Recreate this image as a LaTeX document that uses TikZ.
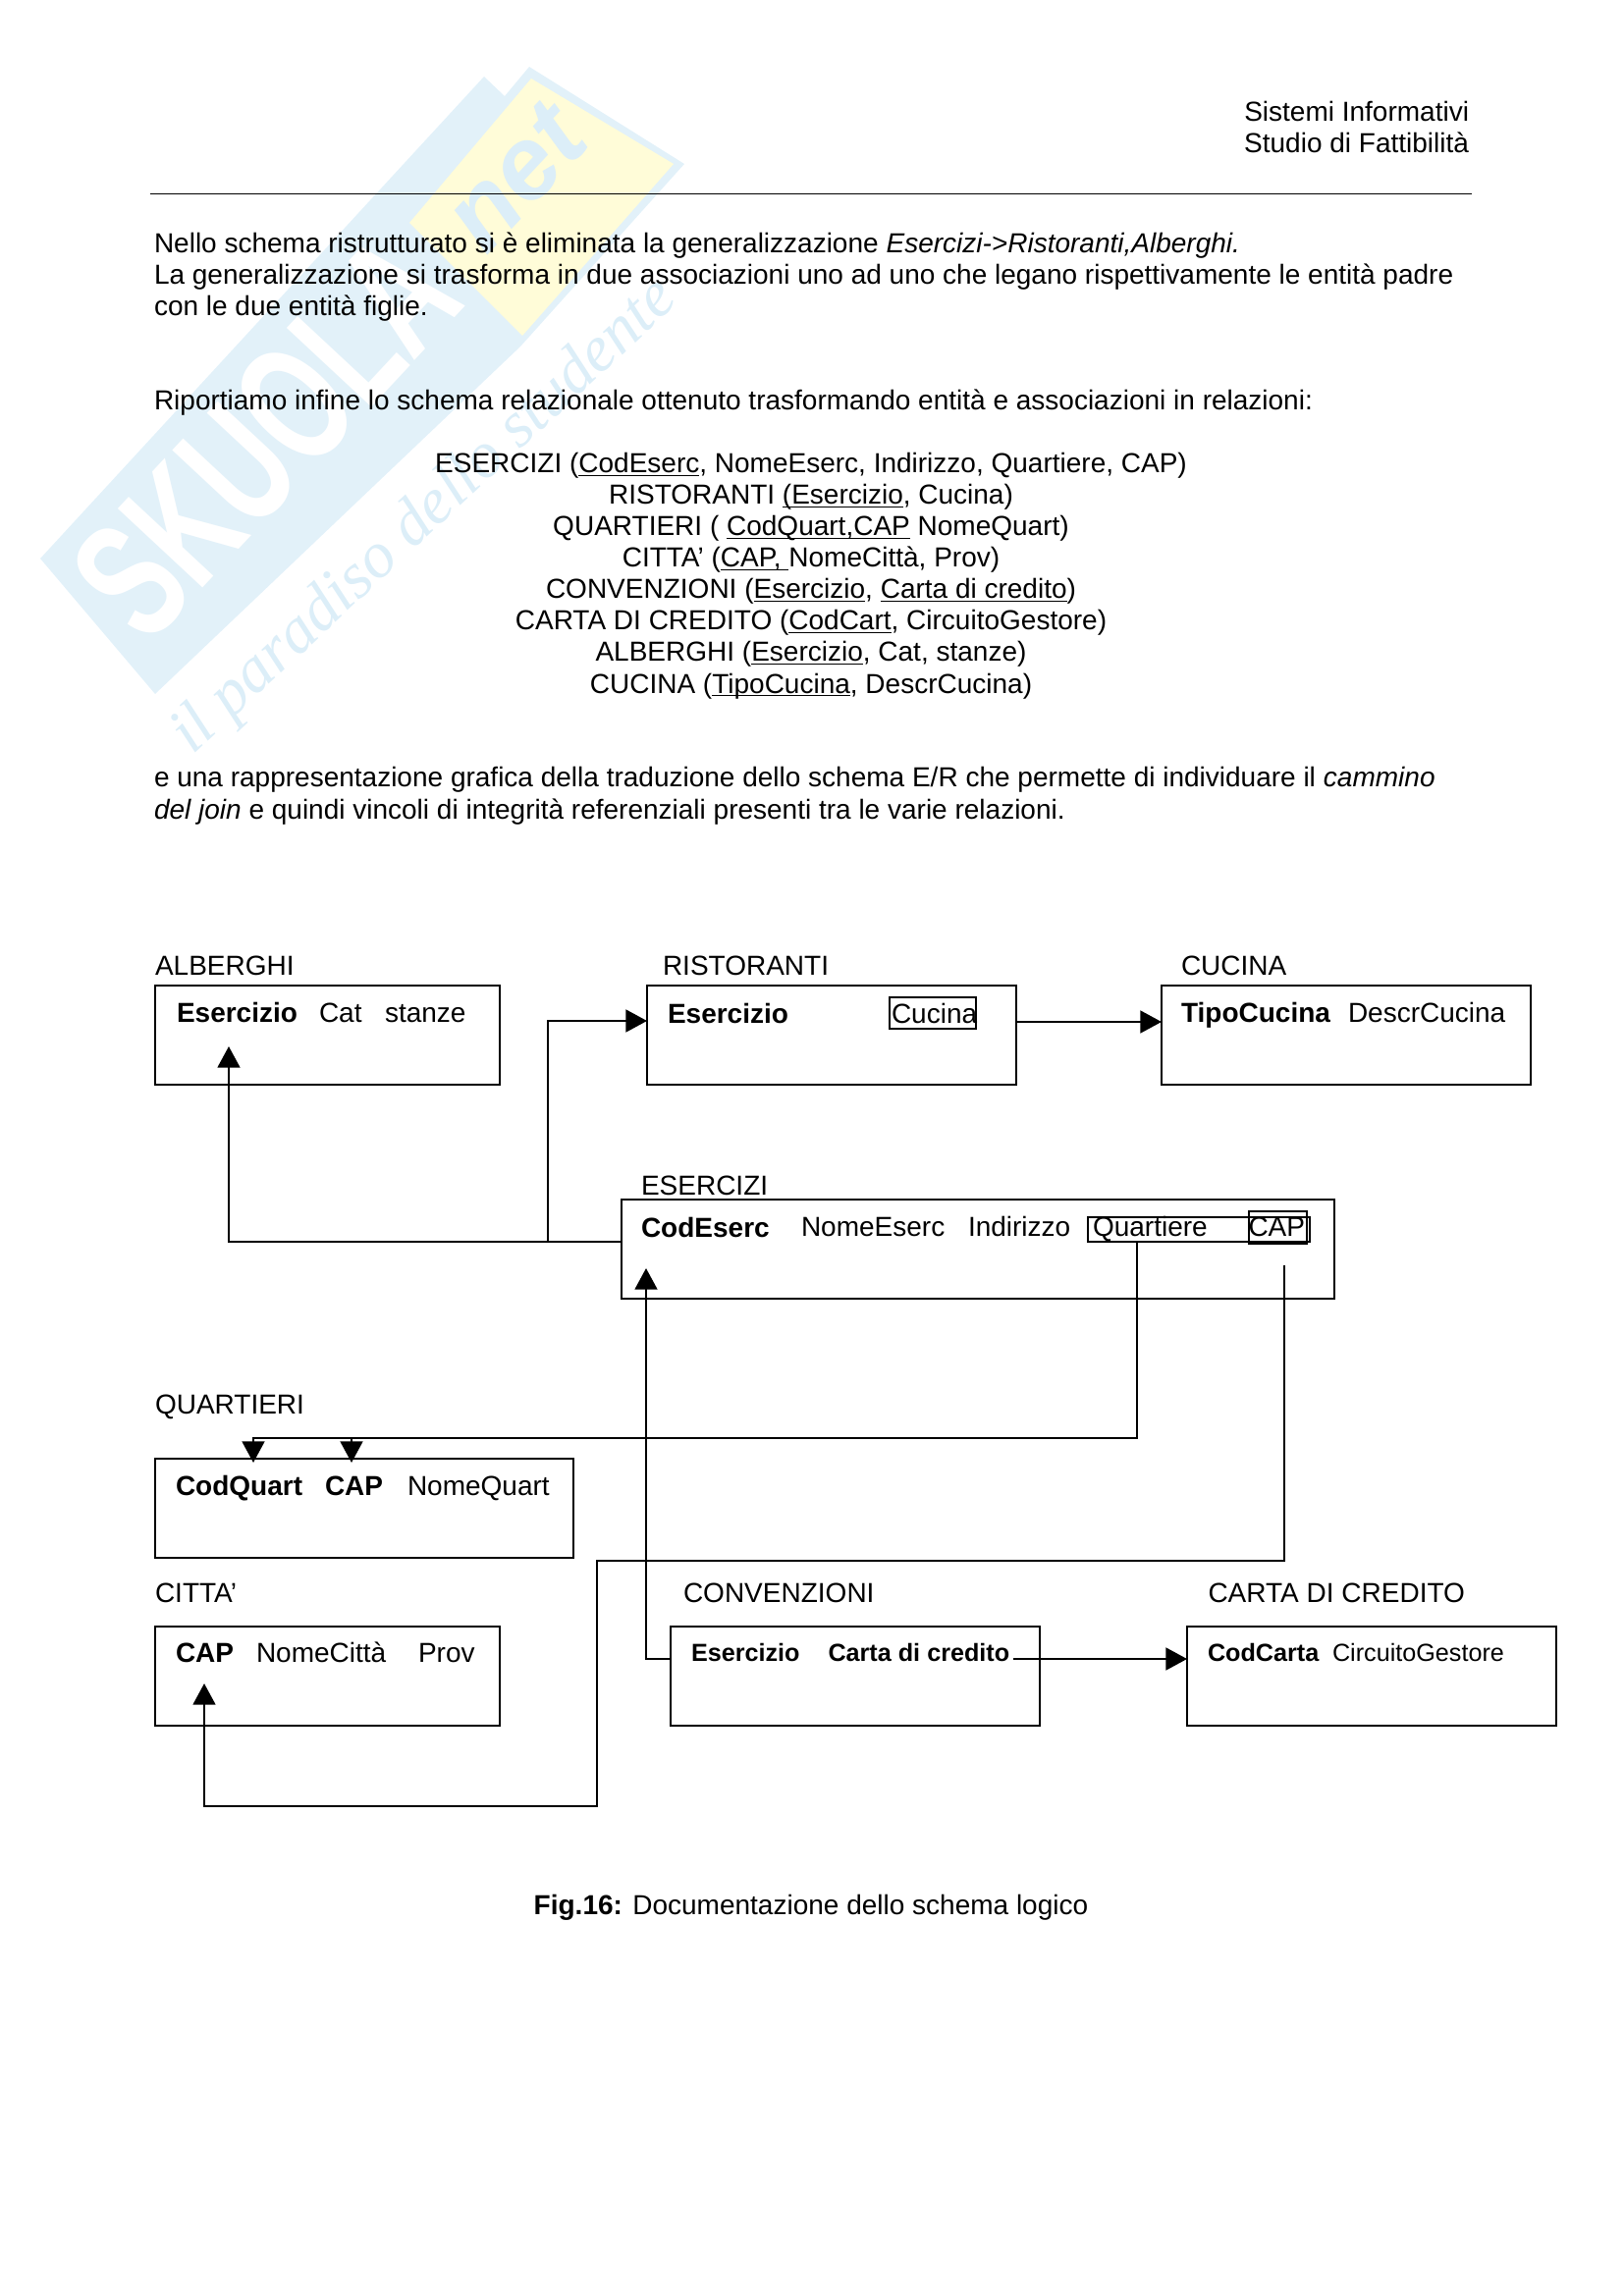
\documentclass[tikz,border=0pt]{standalone}
\usepackage{fontspec}
\setmainfont{Liberation Sans}
\newfontfamily\sloganfont{Liberation Serif}
\usepackage{xcolor}
\usetikzlibrary{positioning,arrows.meta}
\definecolor{wmblue}{HTML}{E2F1F9}
\definecolor{wmyellow}{HTML}{FFFCD8}
\definecolor{wmtext}{HTML}{DCEEF8}
\newcommand{\ulkey}[1]{\setbox0=\hbox{#1}\rlap{\rule[-1.1pt]{\wd0}{0.45pt}}\box0 }

\begin{document}
\begin{tikzpicture}[
  x=0.127mm, y=-0.127mm,
  box/.style={draw, line width=0.85pt, anchor=north west, inner sep=0pt, outer sep=0pt, minimum height=12.83mm},
  tabshort/.style={box, minimum width=44.58mm},
  tablong/.style={box, minimum width=47.75mm},
  attrbox/.style={draw, line width=0.5pt, anchor=north west, inner sep=0pt, outer sep=0pt},
  txt/.style={anchor=base west, inner sep=0pt, outer sep=0pt, font=\fontsize{10.12pt}{11.5pt}\selectfont},
  key/.style={txt, font=\fontsize{10.12pt}{11.5pt}\selectfont\bfseries},
  smalltxt/.style={txt, font=\fontsize{9.1pt}{10pt}\selectfont},
  smallkey/.style={txt, font=\fontsize{9.1pt}{10pt}\selectfont\bfseries},
  mid/.style={txt, anchor=base},
  arr/.style={-{Triangle[length=2.75mm,width=2.9mm]}, line width=0.85pt}
]
\useasboundingbox (0,0) rectangle (1653,2339);

\fill[wmblue] (41,569) -- (493,78) -- (514,98) -- (539,68) -- (697,167) -- (530,353) -- (158,707) -- cycle;
\fill[wmyellow] (541,80) -- (686,167) -- (532,342) -- (417,227) -- cycle;
\node[anchor=base west, inner sep=0pt, rotate=47, text=white, xscale=0.66, font=\fontsize{62pt}{62pt}\selectfont\bfseries] (wmname) at (150,660) {SKUOLA};
\node[anchor=base west, inner sep=0pt, rotate=47, text=wmtext, font=\fontsize{38pt}{38pt}\selectfont\bfseries\itshape] (wmnet) at (495,262) {net};
\node[anchor=base west, inner sep=0pt, rotate=43, text=wmtext, font=\fontsize{24pt}{24pt}\selectfont\sloganfont\itshape] (wmslogan) at (196,770) {il paradiso dello studente};

\node[txt, anchor=base east] (head1) at (1496,124) {Sistemi Informativi};
\node[txt, anchor=base east] (head2) at (1496,156) {Studio di Fattibilità};
\coordinate (ruleA) at (153,197.5);
\coordinate (ruleB) at (1499,197.5);
\draw[line width=0.6pt] (ruleA) -- (ruleB);

\node[txt] (par1) at (157,258) {Nello schema ristrutturato si è eliminata la generalizzazione \textit{Esercizi->Ristoranti,Alberghi.}};
\node[txt] (par2) at (157,290) {La generalizzazione si trasforma in due associazioni uno ad uno che legano rispettivamente le entità padre};
\node[txt] (par3) at (157,322) {con le due entità figlie.};
\node[txt] (par4) at (157,418) {Riportiamo infine lo schema relazionale ottenuto trasformando entità e associazioni in relazioni:};

\node[mid] (rel1) at (826,482) {ESERCIZI (\ulkey{CodEserc}, NomeEserc, Indirizzo, Quartiere, CAP)};
\node[mid] (rel2) at (826,514) {RISTORANTI \ulkey{(Esercizio}, Cucina)};
\node[mid] (rel3) at (826,546) {QUARTIERI ( \ulkey{CodQuart,CAP} NomeQuart)};
\node[mid] (rel4) at (826,578) {CITTA' (\ulkey{CAP, }NomeCittà, Prov)};
\node[mid] (rel5) at (826,610) {CONVENZIONI (\ulkey{Esercizio}, \ulkey{Carta di credito})};
\node[mid] (rel6) at (826,642) {CARTA DI CREDITO (\ulkey{CodCart}, CircuitoGestore)};
\node[mid] (rel7) at (826,674) {ALBERGHI (\ulkey{Esercizio}, Cat, stanze)};
\node[mid] (rel8) at (826,706) {CUCINA (\ulkey{TipoCucina}, DescrCucina)};

\node[txt] (par5) at (157,802) {e una rappresentazione grafica della traduzione dello schema E/R che permette di individuare il \textit{cammino}};
\node[txt] (par6) at (157,834) {\textit{del join} e quindi vincoli di integrità referenziali presenti tra le varie relazioni.};

\node[tabshort] (alberghi) at (158,1004) {};
\node[tablong] (ristoranti) at (659,1004) {};
\node[tablong] (cucina) at (1183,1004) {};
\node[box, minimum width=92.2mm] (esercizi) at (633,1222) {};
\node[box, minimum width=54.1mm] (quartieri) at (158,1486) {};
\node[tabshort] (citta) at (158,1657) {};
\node[tablong] (convenzioni) at (683,1657) {};
\node[tablong] (carta) at (1209,1657) {};

\node[txt] (lblAlberghi) at (158,993) {ALBERGHI};
\node[key] (albEserc) at (180,1041) {Esercizio};
\node[txt] (albCat) at (325,1041) {Cat};
\node[txt] (albStanze) at (392,1041) {stanze};

\node[txt] (lblRistoranti) at (675,993) {RISTORANTI};
\node[key] (risEserc) at (680,1042) {Esercizio};
\node[attrbox, minimum width=11.18mm, minimum height=4.06mm] (risMark) at (906,1016) {};
\node[txt] (risCucina) at (908,1042) {Cucina};

\node[txt] (lblCucina) at (1203,993) {CUCINA};
\node[key] (cucTipo) at (1203,1041) {TipoCucina};
\node[txt] (cucDescr) at (1373,1041) {DescrCucina};

\node[txt] (lblEsercizi) at (653,1217) {ESERCIZI};
\node[key] (escCod) at (653,1260) {CodEserc};
\node[txt] (escNome) at (816,1259) {NomeEserc};
\node[txt] (escInd) at (986,1259) {Indirizzo};
\node[attrbox, line width=0.7pt, minimum width=28.64mm, minimum height=3.18mm] (escQuaMark) at (1108,1240) {};
\node[txt] (escQua) at (1113,1259) {Quartiere};
\node[attrbox, minimum width=7.49mm, minimum height=4.19mm] (escCapMark) at (1272,1234) {};
\node[txt] (escCap) at (1271.5,1259) {CAP};

\node[txt] (lblQuartieri) at (158,1440) {QUARTIERI};
\node[key] (quaCod) at (179,1523) {CodQuart};
\node[key] (quaCap) at (331,1523) {CAP};
\node[txt] (quaNome) at (415,1523) {NomeQuart};

\node[txt] (lblCitta) at (158,1632) {CITTA'};
\node[key] (citCap) at (179,1693) {CAP};
\node[txt] (citNome) at (261,1693) {NomeCittà};
\node[txt] (citProv) at (426,1693) {Prov};

\node[txt] (lblConv) at (696,1632) {CONVENZIONI};
\node[smallkey] (conEserc) at (704,1692) {Esercizio};
\node[smallkey] (conCarta) at (843.5,1692) {Carta di credito};

\node[txt] (lblCarta) at (1230.5,1632) {CARTA DI CREDITO};
\node[smallkey] (carCod) at (1230,1692) {CodCarta};
\node[smalltxt] (carCirc) at (1357,1692) {CircuitoGestore};

\coordinate (escOut) at (633,1265);
\coordinate (escBranch) at (558,1265);
\coordinate (albIn) at (233,1066);
\coordinate (risIn) at (659,1040);
\coordinate (risOut) at (1035,1041);
\coordinate (cucIn) at (1183,1041);
\coordinate (quaOut) at (1158,1265);
\coordinate (quaBus) at (258,1465);
\coordinate (quaInA) at (258,1490);
\coordinate (quaInB) at (358,1490);
\coordinate (capOut) at (1308,1289);
\coordinate (capTurn) at (608,1590);
\coordinate (capLow) at (208,1840);
\coordinate (citIn) at (208,1715);
\coordinate (conOut) at (683,1690);
\coordinate (escIn) at (658,1292);
\coordinate (conRight) at (1032,1690);
\coordinate (carIn) at (1209,1690);

\draw[arr] (escOut) -| (albIn);
\draw[arr] (escBranch) |- (risIn);
\draw[arr] (risOut) -- (cucIn);
\draw[arr] (quaOut) |- (quaBus) -- (quaInA);
\draw[arr] (quaInB |- quaBus) -- (quaInB);
\draw[arr] (capOut) |- (capTurn) |- (capLow) -- (citIn);
\draw[arr] (conOut) -| (escIn);
\draw[arr] (conRight) -- (carIn);

\node[mid] (caption) at (826,1950) {\textbf{Fig.16:} Documentazione dello schema logico};
\end{tikzpicture}
\end{document}
